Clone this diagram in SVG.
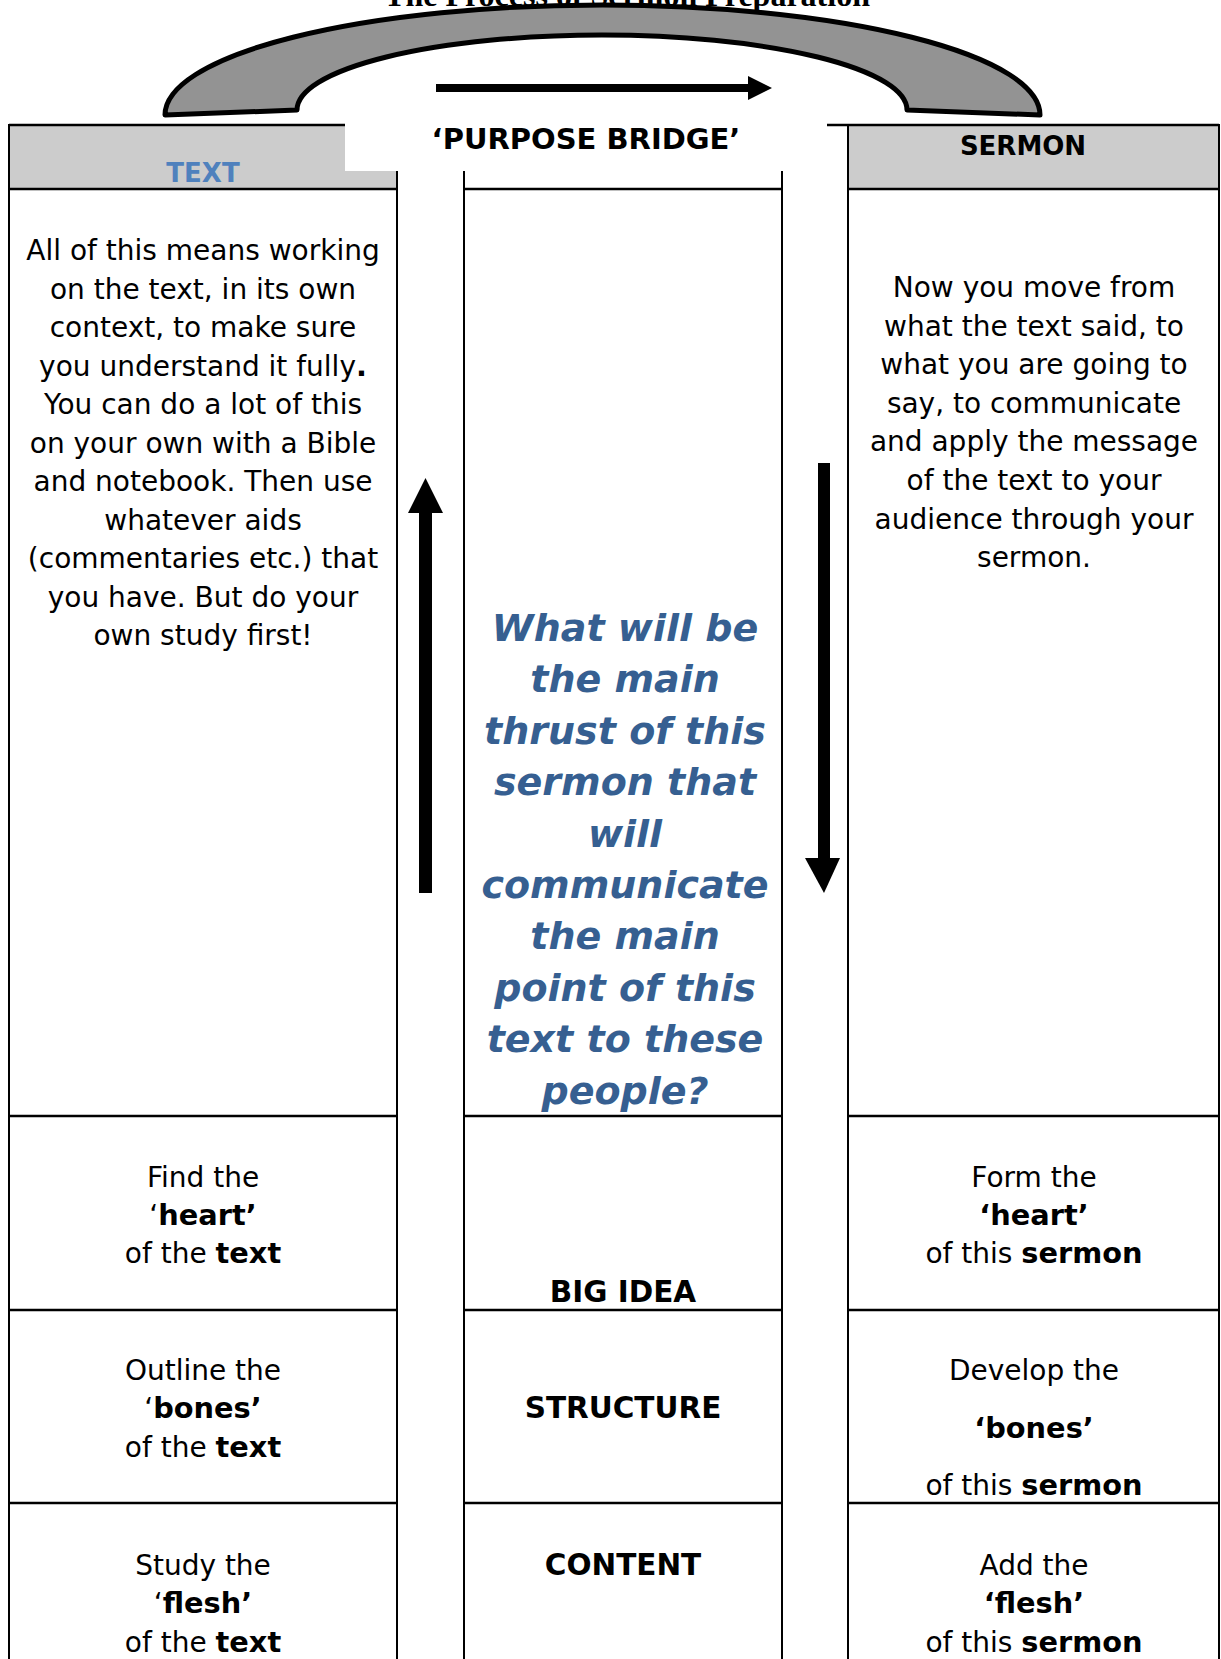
<svg xmlns="http://www.w3.org/2000/svg" width="1221" height="1659" viewBox="0 0 1221 1659">
<style>
.body{font-family:"DejaVu Sans",Verdana,sans-serif;font-size:28px;fill:#000;text-anchor:middle}
.b{font-weight:bold;font-size:28.8px}
.lbl{font-family:"DejaVu Sans",Verdana,sans-serif;font-size:29.5px;font-weight:bold;text-anchor:middle}
.head{font-family:"DejaVu Sans",Verdana,sans-serif;font-size:26px;font-weight:bold;text-anchor:middle}
.big{font-family:"DejaVu Sans",Verdana,sans-serif;font-size:38px;font-weight:bold;font-style:italic;fill:#365F91;text-anchor:middle}
.hl{stroke:#000;stroke-width:2.5;fill:none}
.vl{stroke:#000;stroke-width:2;fill:none}
.arr{fill:#000}
</style>
<rect width="1221" height="1659" fill="#fff"/>
<text x="627" y="6" font-family="Liberation Serif,serif" font-weight="bold" font-size="32" text-anchor="middle">The Process of Sermon Preparation</text>

<g id="bridge">
<path d="M165,115 A437.5,110 0 0 1 1040,115 L907,110 A305,75 0 0 0 297,110 Z" fill="#939393" stroke="#000" stroke-width="5" stroke-linejoin="round"/>
</g>

<g id="text-column">
<rect x="9" y="125" width="388" height="64" fill="#CCCCCC"/>
<line class="hl" x1="9" y1="125" x2="397" y2="125"/>
<line class="hl" x1="9" y1="189" x2="397" y2="189"/>
<line class="hl" x1="9" y1="1116" x2="397" y2="1116"/>
<line class="hl" x1="9" y1="1310" x2="397" y2="1310"/>
<line class="hl" x1="9" y1="1503" x2="397" y2="1503"/>
<line class="vl" x1="9" y1="124" x2="9" y2="1659"/>
<line class="vl" x1="397" y1="124" x2="397" y2="1659"/>
</g>

<g id="middle-column">
<line class="hl" x1="464" y1="189" x2="782" y2="189"/>
<line class="hl" x1="464" y1="1116" x2="782" y2="1116"/>
<line class="hl" x1="464" y1="1310" x2="782" y2="1310"/>
<line class="hl" x1="464" y1="1503" x2="782" y2="1503"/>
<line class="vl" x1="464" y1="171" x2="464" y2="1659"/>
<line class="vl" x1="782" y1="171" x2="782" y2="1659"/>
</g>

<g id="sermon-column">
<rect x="848" y="125" width="371" height="64" fill="#CCCCCC"/>
<line class="hl" x1="827" y1="125" x2="1219" y2="125"/>
<line class="hl" x1="848" y1="189" x2="1219" y2="189"/>
<line class="hl" x1="848" y1="1116" x2="1219" y2="1116"/>
<line class="hl" x1="848" y1="1310" x2="1219" y2="1310"/>
<line class="hl" x1="848" y1="1503" x2="1219" y2="1503"/>
<line class="vl" x1="848" y1="124" x2="848" y2="1659"/>
<line class="vl" x1="1219" y1="124" x2="1219" y2="1659"/>
</g>

<rect x="345" y="121" width="482" height="50" fill="#fff"/>

<g id="purpose-bridge">
<text x="586" y="149" font-family="DejaVu Sans,Verdana,sans-serif" font-size="29" font-weight="bold" text-anchor="middle">‘PURPOSE BRIDGE’</text>
</g>

<g id="text-header"><text class="head" x="203" y="182" fill="#4F81BD">TEXT</text></g>
<g id="sermon-header"><text class="head" x="1023" y="155" font-size="27">SERMON</text></g>

<g id="text-body">
<text class="body" x="203" y="260">All of this means working</text>
<text class="body" x="203" y="298.5">on the text, in its own</text>
<text class="body" x="203" y="337">context, to make sure</text>
<text class="body" x="203" y="375.5">you understand it fully<tspan class="b">.</tspan></text>
<text class="body" x="203" y="414">You can do a lot of this</text>
<text class="body" x="203" y="452.5">on your own with a Bible</text>
<text class="body" x="203" y="491">and notebook. Then use</text>
<text class="body" x="203" y="529.5">whatever aids</text>
<text class="body" x="203" y="568">(commentaries etc.) that</text>
<text class="body" x="203" y="606.5">you have. But do your</text>
<text class="body" x="203" y="645">own study first!</text>
</g>

<g id="sermon-body">
<text class="body" x="1034" y="297">Now you move from</text>
<text class="body" x="1034" y="335.5">what the text said, to</text>
<text class="body" x="1034" y="374">what you are going to</text>
<text class="body" x="1034" y="413">say, to communicate</text>
<text class="body" x="1034" y="451">and apply the message</text>
<text class="body" x="1034" y="490">of the text to your</text>
<text class="body" x="1034" y="528.5">audience through your</text>
<text class="body" x="1034" y="567">sermon.</text>
</g>

<g id="big-question">
<text class="big" x="625" y="641">What will be</text>
<text class="big" x="625" y="692.4">the main</text>
<text class="big" x="625" y="743.8">thrust of this</text>
<text class="big" x="625" y="795.2">sermon that</text>
<text class="big" x="625" y="846.6">will</text>
<text class="big" x="625" y="898">communicate</text>
<text class="big" x="625" y="949.4">the main</text>
<text class="big" x="625" y="1000.8">point of this</text>
<text class="big" x="625" y="1052.2">text to these</text>
<text class="big" x="625" y="1103.6">people?</text>
</g>

<g id="heart-text">
<text class="body" x="203" y="1187">Find the</text>
<text class="body" x="203" y="1225">‘<tspan class="b">heart’</tspan></text>
<text class="body" x="203" y="1263">of the <tspan class="b">text</tspan></text>
</g>
<g id="big-idea"><text class="lbl" x="623" y="1302">BIG IDEA</text></g>
<g id="heart-sermon">
<text class="body" x="1034" y="1187">Form the</text>
<text class="body b" x="1034" y="1225">‘heart’</text>
<text class="body" x="1034" y="1263">of this <tspan class="b">sermon</tspan></text>
</g>

<g id="bones-text">
<text class="body" x="203" y="1380">Outline the</text>
<text class="body" x="203" y="1418">‘<tspan class="b">bones’</tspan></text>
<text class="body" x="203" y="1457">of the <tspan class="b">text</tspan></text>
</g>
<g id="structure"><text class="lbl" x="623" y="1418">STRUCTURE</text></g>
<g id="bones-sermon">
<text class="body" x="1034" y="1380">Develop the</text>
<text class="body b" x="1034" y="1438">‘bones’</text>
<text class="body" x="1034" y="1495">of this <tspan class="b">sermon</tspan></text>
</g>

<g id="flesh-text">
<text class="body" x="203" y="1575">Study the</text>
<text class="body" x="203" y="1613">‘<tspan class="b">flesh’</tspan></text>
<text class="body" x="203" y="1652">of the <tspan class="b">text</tspan></text>
</g>
<g id="content"><text class="lbl" x="623" y="1575">CONTENT</text></g>
<g id="flesh-sermon">
<text class="body" x="1034" y="1575">Add the</text>
<text class="body b" x="1034" y="1613">‘flesh’</text>
<text class="body" x="1034" y="1652">of this <tspan class="b">sermon</tspan></text>
</g>

<g id="connectors">
<rect class="arr" x="436" y="84" width="313" height="8"/>
<polygon class="arr" points="748,76 748,100 772,88"/>
<rect class="arr" x="419" y="512" width="13" height="381"/>
<polygon class="arr" points="408,513 443,513 425.5,478"/>
<rect class="arr" x="818" y="463" width="12" height="396"/>
<polygon class="arr" points="805,858 840,858 824,893"/>
</g>
</svg>
